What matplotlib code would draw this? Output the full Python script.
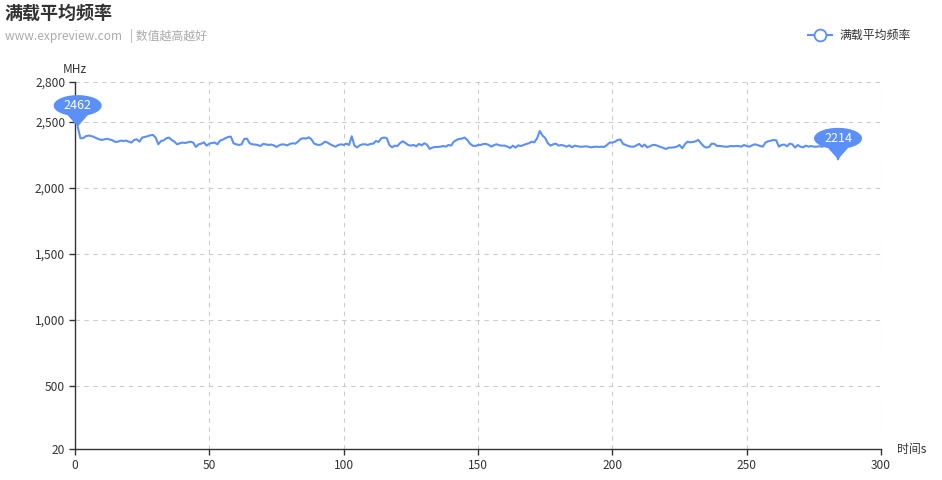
import matplotlib
matplotlib.use("Agg")
import matplotlib.pyplot as plt
import matplotlib.transforms as mtransforms
from matplotlib.path import Path
from matplotlib.patches import PathPatch
from matplotlib.lines import Line2D
from matplotlib.ticker import FuncFormatter
import numpy as np

plt.rcParams['font.family'] = ['Noto Sans CJK SC', 'DejaVu Sans']

# data: one sample per second
seconds = list(range(1, 286))
freq = [
    2462, 2374, 2374, 2389, 2394, 2391, 2384, 2374, 2366, 2361,
    2366, 2369, 2364, 2358, 2346, 2348, 2356, 2353, 2356, 2348,
    2341, 2361, 2366, 2348, 2379, 2384, 2389, 2396, 2399, 2379,
    2328, 2353, 2358, 2374, 2379, 2361, 2348, 2328, 2336, 2341,
    2338, 2343, 2348, 2341, 2308, 2328, 2333, 2343,
    2318, 2333, 2338, 2341, 2328, 2356, 2364, 2374, 2384, 2386,
    2336, 2328, 2323, 2328, 2369, 2371, 2336, 2328, 2326, 2323,
    2315, 2331, 2328, 2323, 2326, 2320, 2308, 2320, 2328, 2326,
    2320, 2331, 2336, 2333, 2348, 2369, 2374, 2371, 2381, 2366,
    2333, 2326, 2323, 2331, 2348, 2341, 2328, 2318,
    2310, 2323, 2328, 2323, 2333, 2323, 2389, 2318, 2305, 2320,
    2328, 2328, 2323, 2331, 2333, 2353, 2346, 2374, 2379, 2376,
    2323, 2305, 2318, 2315, 2338, 2351, 2338, 2323, 2318, 2323,
    2313, 2331, 2320, 2336, 2326, 2293, 2303, 2308, 2308, 2310,
    2315, 2310, 2323, 2318, 2348, 2361, 2369,
    2371, 2379, 2361, 2333, 2318, 2315, 2323, 2323, 2331, 2331,
    2323, 2310, 2323, 2328, 2320, 2318, 2318, 2310, 2300, 2318,
    2303, 2320, 2315, 2323, 2331, 2336, 2348, 2343, 2374, 2429,
    2394, 2376, 2336, 2318, 2328, 2333, 2318, 2323, 2318, 2310,
    2320, 2305, 2318, 2313, 2310, 2310, 2313, 2310,
    2305, 2308, 2310, 2308, 2310, 2308, 2323, 2341, 2341, 2348,
    2361, 2364, 2331, 2323, 2315, 2310, 2310, 2320, 2331, 2310,
    2326, 2305, 2313, 2323, 2323, 2315, 2308, 2300, 2293, 2303,
    2303, 2305, 2310, 2323, 2298, 2328, 2348, 2343, 2346, 2351,
    2361, 2336, 2313, 2303, 2308, 2333, 2331,
    2315, 2315, 2313, 2310, 2310, 2315, 2313, 2315, 2315, 2310,
    2323, 2315, 2310, 2320, 2328, 2323, 2315, 2310, 2341, 2351,
    2356, 2361, 2358, 2310, 2323, 2326, 2313, 2333, 2328, 2303,
    2323, 2310, 2305, 2318, 2310, 2315, 2310, 2310, 2313, 2310,
    2315, 2310, 2313, 2305, 2300, 2214, 2300,
]
y_ticks = [20, 500, 1000, 1500, 2000, 2500, 2800]
x_ticks = [0, 50, 100, 150, 200, 250, 300]

title = "满载平均频率"
subtitle = "www.expreview.com   | 数值越高越好"
series_name = "满载平均频率"

blue = "#5b8ff9"
axis_col = "#333333"
grid_col = "#cccccc"

fig = plt.figure(figsize=(9.42, 4.8), dpi=100)
ax = fig.add_axes([75/942, 1-449/480, (881-75)/942, (449-82)/480])

ax.plot(seconds, freq, color=blue, lw=1.5, solid_joinstyle='round', zorder=3)

ax.set_xlim(0, 300)
ax.set_ylim(20, 2800)
ax.set_xticks(x_ticks)
ax.set_yticks(y_ticks)
ax.yaxis.set_major_formatter(FuncFormatter(lambda v, p: f"{int(v):,}"))

# dashed grid (skip the axis lines themselves)
for t in x_ticks[1:]:
    ax.axvline(t, color=grid_col, lw=0.8, ls=(0, (4, 4)), zorder=1)
for t in y_ticks[1:]:
    ax.axhline(t, color=grid_col, lw=0.8, ls=(0, (4, 4)), zorder=1)

for s in ['top', 'right']:
    ax.spines[s].set_visible(False)
for s in ['left', 'bottom']:
    ax.spines[s].set_color(axis_col)
    ax.spines[s].set_linewidth(1)
ax.tick_params(colors=axis_col, labelsize=8.6, length=4, width=1, pad=3)

ax.text(0, 1.015, "MHz", transform=ax.transAxes, ha='center', va='bottom',
        fontsize=8.6, color=axis_col)
ax.text(1.02, 0, "时间s", transform=ax.transAxes, ha='left', va='center',
        fontsize=8.6, color=axis_col)

# pin markers for max / min
def pin(xv, yv, label):
    a0 = np.deg2rad(-65)
    a1 = np.deg2rad(-115)
    rx, ry, cy = 24, 10.5, 21
    ang = np.linspace(a0, a1 + 2*np.pi, 70)
    verts = [(rx*np.cos(a), cy + ry*np.sin(a)) for a in ang]
    verts.append((0, 0))
    verts.append(verts[0])
    codes = [Path.MOVETO] + [Path.LINETO]*(len(verts)-2) + [Path.CLOSEPOLY]
    tr = mtransforms.Affine2D() + mtransforms.ScaledTranslation(xv, yv, ax.transData)
    ax.add_patch(PathPatch(Path(verts, codes), facecolor=blue, edgecolor='none',
                           transform=tr, clip_on=False, zorder=5))
    tt = mtransforms.Affine2D().translate(0, cy) + mtransforms.ScaledTranslation(xv, yv, ax.transData)
    ax.text(0, 0, label, transform=tt, ha='center', va='center', color='white',
            fontsize=9, zorder=6, clip_on=False)

i_max = int(np.argmax(freq))
i_min = int(np.argmin(freq))
pin(seconds[i_max], freq[i_max], str(freq[i_max]))
pin(seconds[i_min], freq[i_min], str(freq[i_min]))

# title
fig.text(5/942, 1-13/480, title, ha='left', va='center', fontsize=13,
         fontweight='bold', color='#333333')
fig.text(5/942, 1-36/480, subtitle, ha='left', va='center', fontsize=8.6,
         color='#aaaaaa')

# legend
ly = 1-35/480
fig.add_artist(Line2D([808/942, 832/942], [ly, ly], color=blue, lw=1.5,
                      transform=fig.transFigure))
fig.add_artist(Line2D([820/942], [ly], color=blue, marker='o', markersize=8.5,
                      markerfacecolor='white', markeredgewidth=1.3,
                      transform=fig.transFigure))
fig.text(840/942, ly, series_name, ha='left', va='center', fontsize=8.6,
         color='#333333')

fig.savefig("out.png", dpi=100)
